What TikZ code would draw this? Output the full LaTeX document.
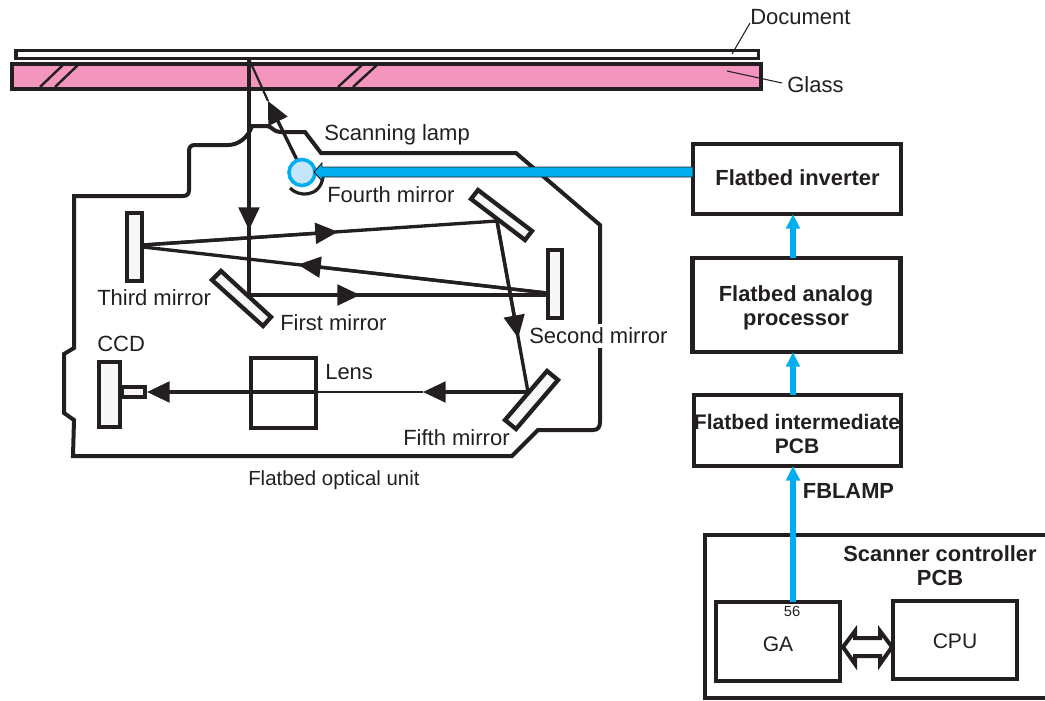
\documentclass[tikz,border=0pt]{standalone}
\usepackage{fontspec}
\setmainfont{Liberation Sans}
\usetikzlibrary{arrows.meta}
\definecolor{inkc}{HTML}{231F20}
\definecolor{pinkc}{HTML}{F495BE}
\definecolor{cyanc}{HTML}{00AEEF}
\definecolor{lampc}{HTML}{C5E6FA}
\definecolor{mirrc}{HTML}{F7F7F7}
\tikzset{
  px/.style={x=0.75pt,y=-0.75pt},
  lab/.style={font=\fontsize{16.5}{18}\selectfont,text=inkc,inner sep=0pt,anchor=west},
  blab/.style={font=\fontsize{16.4}{18}\selectfont\bfseries,text=inkc,inner sep=0pt,align=center},
  chip/.style={draw=inkc,line width=3.4pt,fill=white,outer sep=0pt,inner sep=0pt},
  plainchip/.style={chip,line width=3.2pt},
  hous/.style={draw=inkc,line width=3pt,line join=miter},
  mirr/.style={draw=inkc,line width=3.2pt,fill=mirrc,line join=miter},
  ray/.style={draw=inkc,line width=2.5pt},
  thinray/.style={draw=inkc,line width=1pt},
  head/.style={-{Triangle[length=17pt,width=15.5pt]}},
  blue/.style={draw=cyanc,line width=4.4pt,-{Triangle[length=11pt,width=10pt]}},
  lead/.style={draw=inkc,line width=0.8pt},
}
\begin{document}
\begin{tikzpicture}[px]
\useasboundingbox (0,0) rectangle (1045,700);
\clip (0,0) rectangle (1045,700);
% housing
\draw[hous] (228,145) .. controls (238,145) and (248,138) .. (252,126) -- (267,126)
  .. controls (271,126) and (274,132) .. (280,132) -- (305,132) -- (321,153) -- (516,153) -- (600,225)
  -- (600,422) .. controls (600,427) and (598,430) .. (593,430) -- (538,430) -- (512,456)
  -- (73,456) -- (74,420) -- (64,413) -- (64,354) -- (74,348) -- (74,196)
  -- (183,196) .. controls (187,196) and (189,194) .. (189,190) -- (189,151)
  .. controls (189,147) and (191,145) .. (195,145) -- (228,145);
% glass and document
\draw[draw=inkc,line width=3pt,fill=pinkc] (12,64) rectangle (761,89);
\draw[draw=inkc,line width=2.5pt,fill=white] (16,50.5) rectangle (758.5,58.5);
\foreach \a/\b in {40/63,55/78,338/362,353/377}{\draw[inkc,line width=1.8pt] (\a,87) -- (\b,65);}
% coordinates of the light path
\coordinate (top) at (249,59);
\coordinate (vhead) at (249,230);
\coordinate (m1) at (249,295);
\coordinate (h1tip) at (360,295);
\coordinate (m2) at (547,295);
\coordinate (m2b) at (547,293);
\coordinate (h2tip) at (298,264.6);
\coordinate (m3a) at (143,245);
\coordinate (m3b) at (143,247);
\coordinate (h3tip) at (338,231.8);
\coordinate (m4) at (497,221);
\coordinate (h4tip) at (518.2,338);
\coordinate (m5) at (528,392);
\coordinate (h5tip) at (423,392);
\coordinate (lensr) at (318,392);
\coordinate (h6tip) at (147,392);
\coordinate (lamp) at (297,160);
\coordinate (h7tip) at (268,101);
% light path
\draw[ray] (top) -- (m1);
\draw[ray,head] (top) -- (vhead);
\draw[ray] (m1) -- (m2);
\draw[ray,head] (m1) -- (h1tip);
\draw[ray] (m2b) -- (m3b);
\draw[ray,head] (m2b) -- (h2tip);
\draw[ray] (m3a) -- (m4);
\draw[ray,head] (m3a) -- (h3tip);
\draw[ray] (m4) -- (m5);
\draw[ray,head] (m4) -- (h4tip);
\draw[ray,head] (m5) -- (h5tip);
\draw[thinray] (h5tip) -- (lensr);
\draw[ray,head] (lensr) -- (h6tip);
\draw[ray,head] (lamp) -- (h7tip);
\draw[draw=inkc,line width=1.6pt] (h7tip) -- (top);
% mirrors
\draw[mirr] (478,190) -- (532,231) -- (525,240) -- (471,199) -- cycle;
\draw[mirr] (548,250) rectangle (562,318);
\draw[mirr] (127,213) rectangle (142,281);
\draw[mirr] (221,271) -- (271,317) -- (263,326) -- (212,280) -- cycle;
\draw[mirr] (547,371) -- (558,380) -- (516,429) -- (505,420) -- cycle;
\draw[mirr] (99,362) rectangle (120,427);
\draw[draw=inkc,line width=3pt,fill=mirrc] (122,386.5) rectangle (144.5,396.5);
\draw[draw=inkc,line width=3.4pt] (251,358) rectangle (316,428);
% lamp
\draw[inkc,line width=2.4pt] (290,188) .. controls (298,197) and (320,198) .. (323,177);
\node[circle,draw=cyanc,fill=lampc,line width=2.7pt,minimum size=19.5pt,inner sep=0pt,outer sep=0pt] (lampnode) at (302,172.5) {};
% boxes
\node[chip,minimum width=156pt,minimum height=52.5pt] (inv) at (797,179) {};
\node[chip,minimum width=156pt,minimum height=70.5pt] (ana) at (796.5,305) {};
\node[chip,minimum width=155pt,minimum height=53pt] (mid) at (797.5,430.5) {};
\draw[draw=inkc,line width=3.2pt] (1060,535) -- (705,535) -- (705,698) -- (1060,698);
\node[plainchip,minimum width=93pt,minimum height=59pt] (ga) at (778,641.5) {};
\node[plainchip,minimum width=93pt,minimum height=59pt] (cpu) at (955,640) {};
% lamp feed
\draw[draw=inkc,line width=0.7pt,fill=cyanc] (inv.west |- 0,167) -- (322,167) -- (322,163) -- (314,172) -- (322,181) -- (322,177) -- (inv.west |- 0,177) -- cycle;
% blue signals
\coordinate (ga56) at (793,602);
\draw[blue] (ga56) -- (ga56 |- mid.south);
\draw[blue] (ga56 |- mid.north) -- (ga56 |- ana.south);
\draw[blue] (ga56 |- ana.north) -- (ga56 |- inv.south);
% GA CPU bus
\draw[draw=inkc,line width=3pt,fill=white,line join=miter] (843,647) -- (855,631) -- (855,638) -- (880,638) -- (880,631) -- (892,647) -- (880,664) -- (880,656) -- (855,656) -- (855,664) -- cycle;
% leaders
\coordinate (doclead) at (750,23);
\coordinate (docend) at (732,54);
\coordinate (glalead) at (782,83);
\coordinate (glaend) at (727,71);
\draw[lead] (doclead) -- (docend);
\draw[lead] (glalead) -- (glaend);
% labels
\node[lab] (tdoc) at (750,17) {Document};
\node[lab] (tgla) at (787,85) {Glass};
\node[lab] (tlamp) at (324,134.5) {Scanning lamp};
\node[lab] (tfour) at (327,195) {Fourth mirror};
\node[lab] (tthird) at (97,298) {Third mirror};
\node[lab] (tfirst) at (280,323) {First mirror};
\node[lab,fill=white,inner ysep=3pt] (tsecond) at (529,336) {Second mirror};
\node[lab] (tccd) at (97,344) {CCD};
\node[lab] (tlens) at (325,372) {Lens};
\node[lab] (tfifth) at (403,438) {Fifth mirror};
\node[lab,font=\fontsize{15.3}{18}\selectfont] (tunit) at (248,480) {Flatbed optical unit};
\node[blab] (tinv) at (797.5,178) {Flatbed inverter};
\node[blab] (tana) at (796,307.5) {Flatbed analog\\processor};
\node[blab,font=\fontsize{15.8}{18}\selectfont\bfseries] (tmid) at (797,434) {Flatbed intermediate\\PCB};
\node[blab] (tfb) at (848.5,491) {FBLAMP};
\node[blab] (tscan) at (940,566) {Scanner controller\\PCB};
\node[lab,anchor=center,font=\fontsize{11}{13}\selectfont] (t56) at (792,611) {56};
\node[lab,anchor=center,font=\fontsize{15.8}{18}\selectfont] (tga) at (778,644) {GA};
\node[lab,anchor=center,font=\fontsize{15.8}{18}\selectfont] (tcpu) at (955,641) {CPU};
\end{tikzpicture}
\end{document}
